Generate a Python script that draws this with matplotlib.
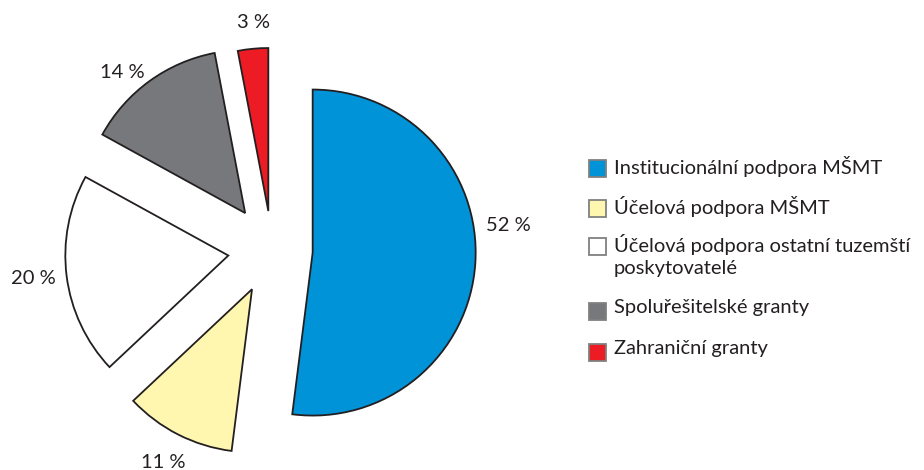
import matplotlib
matplotlib.use("Agg")
import matplotlib.pyplot as plt
from matplotlib.patches import Rectangle

plt.rcParams['font.family'] = ['Lato', 'DejaVu Sans']

categories = [
    "Institucionální podpora MŠMT",
    "Účelová podpora MŠMT",
    "Účelová podpora ostatní tuzemští\nposkytovatelé",
    "Spoluřešitelské granty",
    "Zahraniční granty",
]
shares = [52, 11, 20, 14, 3]
colors = ["#0093d8", "#fff7b0", "#ffffff", "#77787b", "#ed1c24"]
explode = [0.25, 0.27, 0.27, 0.28, 0.24]

# label positions in figure pixels (x, y from top)
label_pos = [(508, 226), (163, 462), (33, 279), (122, 73), (253, 22)]

W, H = 924, 470
cx, cy, R = 272, 250, 163

fig = plt.figure(figsize=(W / 100, H / 100), dpi=100)
ax = fig.add_axes([0, 0, 1, 1])
ax.pie(shares, colors=colors, explode=explode, startangle=90, counterclock=False,
       radius=1, wedgeprops=dict(edgecolor="#231f20", linewidth=1.3))
ax.set_aspect('auto')
ax.set_xlim(-cx / R, (W - cx) / R)
ax.set_ylim((cy - H) / R, cy / R)
ax.axis('off')

for v, (px, py) in zip(shares, label_pos):
    fig.text(px / W, 1 - py / H, f"{v} %", ha='center', va='center',
             fontsize=14.5, color="#231f20")

# legend
rows = [168, 208, 246, 311, 352]
for name, col, ry in zip(categories, colors, rows):
    fig.patches.append(Rectangle((589 / W, 1 - (ry + 9) / H), 17 / W, 17 / H,
                                 transform=fig.transFigure, facecolor=col,
                                 edgecolor="#808080", linewidth=1.3))
    fig.text(614 / W, 1 - (ry - 12) / H, name, ha='left', va='top',
             fontsize=14.5, color="#231f20", linespacing=1.35)

fig.savefig("out.png", dpi=100)
